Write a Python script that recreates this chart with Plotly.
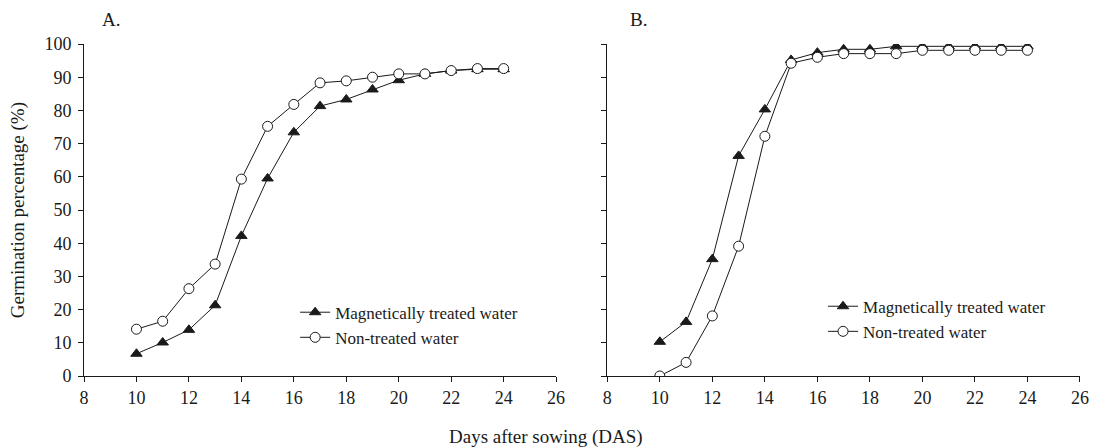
import plotly.graph_objects as go

days = [10, 11, 12, 13, 14, 15, 16, 17, 18, 19, 20, 21, 22, 23, 24]

a_magnetic = [6.7, 10.1, 13.9, 21.3, 42.2, 59.5, 73.4, 81.3, 83.3, 86.3, 89.1, 91.0, 92.0, 92.4, 92.4]
a_nontreated = [14.1, 16.5, 26.3, 33.7, 59.3, 75.2, 81.8, 88.3, 88.9, 90.0, 91.0, 91.0, 92.0, 92.6, 92.6]

b_magnetic = [10.3, 16.3, 35.2, 66.3, 80.3, 95.2, 97.4, 98.4, 98.4, 99.3, 99.3, 99.3, 99.3, 99.3, 99.3]
b_nontreated = [0.0, 4.1, 18.1, 39.1, 72.2, 94.2, 96.0, 97.1, 97.1, 97.1, 98.1, 98.1, 98.1, 98.1, 98.1]

x_ticks = [8, 10, 12, 14, 16, 18, 20, 22, 24, 26]
y_ticks = [0, 10, 20, 30, 40, 50, 60, 70, 80, 90, 100]

FONT = "Liberation Serif, Times New Roman, serif"
INK = "#1a1a1a"

fig = go.Figure()

def add_pair(xa, ya, mag, non, legend):
    fig.add_trace(go.Scatter(
        x=days, y=mag, mode="lines+markers", name="Magnetically treated water",
        line=dict(color=INK, width=1),
        marker=dict(symbol="triangle-up", size=10, color=INK, line=dict(color=INK, width=1)),
        xaxis=xa, yaxis=ya, legend=legend))
    fig.add_trace(go.Scatter(
        x=days, y=non, mode="lines+markers", name="Non-treated water",
        line=dict(color=INK, width=1),
        marker=dict(symbol="circle", size=10, color="white", line=dict(color=INK, width=1)),
        xaxis=xa, yaxis=ya, legend=legend))

add_pair("x", "y", a_magnetic, a_nontreated, "legend")
add_pair("x2", "y2", b_magnetic, b_nontreated, "legend2")

axis_common = dict(
    showline=True, linecolor=INK, linewidth=1, ticks="outside", ticklen=5,
    tickcolor=INK, tickwidth=1, showgrid=False, zeroline=False,
    tickfont=dict(family=FONT, size=18, color=INK),
)

fig.update_layout(
    width=1100, height=447,
    margin=dict(l=84, r=11, t=44, b=71),
    paper_bgcolor="white", plot_bgcolor="white",
    font=dict(family=FONT, size=18, color=INK),
    xaxis=dict(domain=[0, 0.474], range=[8, 26], tickvals=x_ticks, anchor="y", **axis_common),
    yaxis=dict(domain=[0, 1], range=[0, 100], tickvals=y_ticks, anchor="x", ticklabelstandoff=3, **axis_common),
    xaxis2=dict(domain=[0.5254, 1], range=[8, 26], tickvals=x_ticks, anchor="y2", **axis_common),
    yaxis2=dict(domain=[0, 1], range=[0, 100], tickvals=y_ticks, showticklabels=False, anchor="x2", **axis_common),
    legend=dict(x=0.212, y=0.245, xanchor="left", yanchor="top", bgcolor="rgba(0,0,0,0)",
                font=dict(family=FONT, size=17, color=INK), tracegroupgap=0),
    legend2=dict(x=0.742, y=0.263, xanchor="left", yanchor="top", bgcolor="rgba(0,0,0,0)",
                 font=dict(family=FONT, size=17, color=INK), tracegroupgap=0),
    showlegend=True,
    annotations=[
        dict(text="A.", x=0.016, y=1.075, xref="paper", yref="paper", xanchor="left", yanchor="middle",
             showarrow=False, font=dict(family=FONT, size=19, color=INK)),
        dict(text="B.", x=0.546, y=1.075, xref="paper", yref="paper", xanchor="left", yanchor="middle",
             showarrow=False, font=dict(family=FONT, size=19, color=INK)),
        dict(text="Germination percentage (%)", x=-0.066, y=0.5, xref="paper", yref="paper",
             xanchor="center", yanchor="middle", textangle=-90, showarrow=False,
             font=dict(family=FONT, size=19, color=INK)),
        dict(text="Days after sowing (DAS)", x=0.464, y=-0.184, xref="paper", yref="paper",
             xanchor="center", yanchor="middle", showarrow=False,
             font=dict(family=FONT, size=19, color=INK)),
    ],
)

fig.write_html("out.html", config={"displayModeBar": False},
               post_script="document.body.style.margin='0';document.body.style.padding='0';")
